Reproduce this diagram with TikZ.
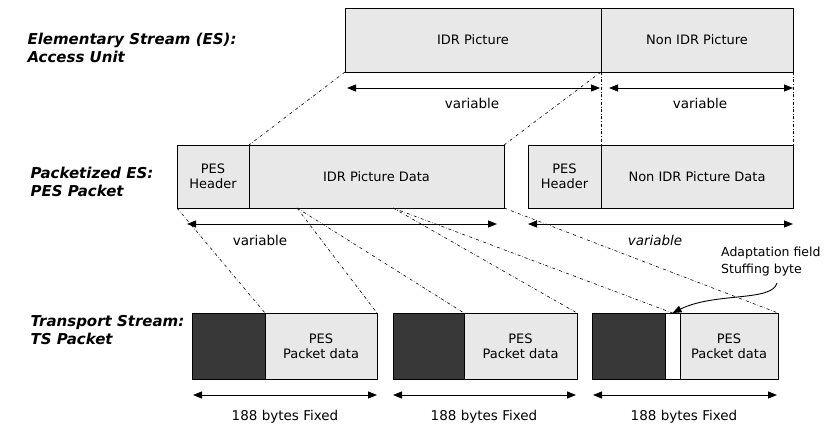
\documentclass[tikz,border=0pt]{standalone}
\usepackage{fontspec}
\setmainfont{DejaVu Sans}
\usetikzlibrary{arrows.meta,calc}

\begin{document}
\begin{tikzpicture}[x=1pt,y=-1pt,
  cell/.style={draw=black,line width=0.9pt,fill=gray!18,inner sep=0pt,outer sep=0pt,
    anchor=north west,align=center,font=\fontsize{13}{15}\selectfont},
  darkcell/.style={cell,fill=black!78},
  link/.style={dash dot,line width=0.6pt},
  span/.style={{Triangle[length=9pt,width=7pt]}-{Triangle[length=9pt,width=7pt]},line width=0.9pt},
  lbl/.style={font=\fontsize{13.5}{15}\selectfont},
  head/.style={font=\fontsize{15}{18}\bfseries\itshape\selectfont,align=left,anchor=west}
]
\useasboundingbox (0,0) rectangle (829,430);

% row labels
\node[head] (es)  at (24,48)  {Elementary Stream (ES):\\Access Unit};
\node[head] (pes) at (27,182) {Packetized ES:\\PES Packet};
\node[head] (ts)  at (27,330) {Transport Stream:\\TS Packet};

% elementary stream access unit
\node[cell,minimum width=256pt,minimum height=64pt] (idr)  at (345,8) {IDR Picture};
\node[cell,minimum width=192pt,minimum height=64pt] (nidr) at (601,8) {Non IDR Picture};

% PES packets
\node[cell,minimum width=72pt,minimum height=63pt]  (ph1)   at (177,145) {PES\\Header};
\node[cell,minimum width=255pt,minimum height=63pt] (idrd)  at (249,145) {IDR Picture Data};
\node[cell,minimum width=73pt,minimum height=63pt]  (ph2)   at (528,145) {PES\\Header};
\node[cell,minimum width=192pt,minimum height=63pt] (nidrd) at (601,145) {Non IDR Picture Data};

% TS packets
\node[darkcell,minimum width=73pt,minimum height=66pt]  (d1) at (192,313) {};
\node[cell,minimum width=112pt,minimum height=66pt]     (p1) at (265,313) {PES\\Packet data};
\node[darkcell,minimum width=71pt,minimum height=66pt]  (d2) at (393,313) {};
\node[cell,minimum width=113pt,minimum height=66pt]     (p2) at (464,313) {PES\\Packet data};
\node[darkcell,minimum width=73pt,minimum height=66pt]  (d3) at (592,313) {};
\node[cell,fill=white,minimum width=15pt,minimum height=66pt] (s3) at (665,313) {};
\node[cell,minimum width=98pt,minimum height=66pt]      (p3) at (680,313) {PES\\Packet data};

% mapping lines
\draw[link] (idr.south west)  -- (idrd.north west);
\draw[link] (idr.south east)  -- (idrd.north east);
\draw[link] (nidr.south west) -- (nidrd.north west);
\draw[link] (nidr.south east) -- (nidrd.north east);
\coordinate (c1) at (297,208);
\coordinate (c2) at (393,208);
\draw[link] (ph1.south west) -- (p1.north west);
\draw[link] (c1) -- (p1.north east);
\draw[link] (c1) -- (p2.north west);
\draw[link] (c2) -- (p2.north east);
\draw[link] (c2) -- (s3.north);
\draw[link] (idrd.south east) -- (p3.north east);

% length arrows
\coordinate (t1a) at (347,88);  \coordinate (t1b) at (600,88);
\coordinate (t2a) at (609,88);  \coordinate (t2b) at (793,88);
\coordinate (m1a) at (187,224); \coordinate (m1b) at (497,224);
\coordinate (m2a) at (528,224); \coordinate (m2b) at (793,224);
\coordinate (b1a) at (193,395); \coordinate (b1b) at (377,395);
\coordinate (b2a) at (393,395); \coordinate (b2b) at (576,395);
\coordinate (b3a) at (593,395); \coordinate (b3b) at (777,395);
\draw[span] (t1a) -- (t1b);
\draw[span] (t2a) -- (t2b);
\draw[span] (m1a) -- (m1b);
\draw[span] (m2a) -- (m2b);
\draw[span] (b1a) -- (b1b);
\draw[span] (b2a) -- (b2b);
\draw[span] (b3a) -- (b3b);

\node[lbl] (v1) at (472,103) {variable};
\node[lbl] (v2) at (700,103) {variable};
\node[lbl] (v3) at (260,240) {variable};
\node[lbl,font=\fontsize{13.5}{15}\itshape\selectfont] (v4) at (655,240) {variable};
\node[lbl] (f1) at (285,417) {188 bytes Fixed};
\node[lbl] (f2) at (484,417) {188 bytes Fixed};
\node[lbl] (f3) at (684,417) {188 bytes Fixed};

% stuffing annotation
\node[align=left,anchor=north west,inner sep=0pt,font=\fontsize{12.5}{17}\selectfont] (adapt) at (721,247) {Adaptation field\\Stuffing byte};
\coordinate (cs) at (777,283);
\draw[-{Triangle[length=9pt,width=7pt]},line width=0.9pt] (cs) .. controls (772,302) and (715,292) .. (s3.north);
\end{tikzpicture}
\end{document}
